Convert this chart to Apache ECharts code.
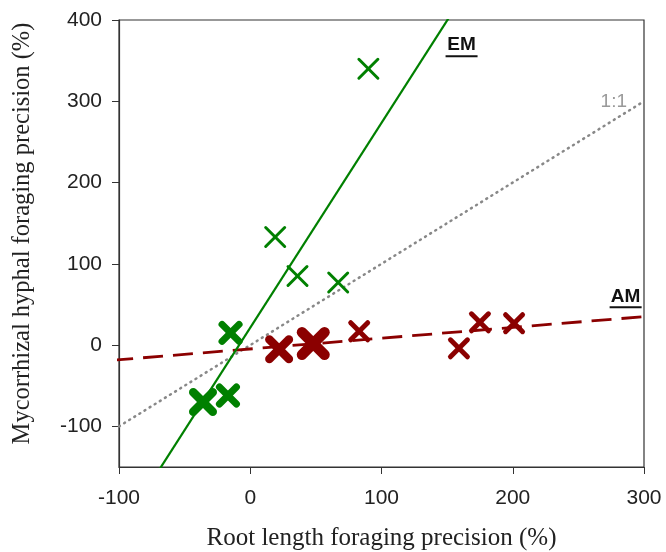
<!DOCTYPE html>
<html>
<head>
<meta charset="utf-8">
<script src="https://cdn.jsdelivr.net/npm/echarts@6/dist/echarts.min.js"></script>
<style>html,body{margin:0;padding:0;background:#fff;}#c{width:666px;height:552px;}</style>
</head>
<body>
<div id="c"></div>
<script>
// ---- data ----
const xTicks = [-100, 0, 100, 200, 300];
const yTicks = [-100, 0, 100, 200, 300, 400];
const emX = [90, 19, 36, 67, -15, -36, -17];
const emY = [340, 133, 85, 77, 15, -70, -62];
const emWeight = [1, 1, 1, 1, 3, 4, 3];
const amX = [22, 48, 83, 159, 175, 201];
const amY = [-5, 2, 17, -4, 28, 27];
const amWeight = [4, 5, 2, 2, 2, 2];
const emFit = {slope: 2.52, intercept: 21.4};
const amFit = {slope: 0.1325, intercept: -4.75};
const labelText = ['EM', 'AM', '1:1'];
const labelX = [161, 286, 277];
const labelY = [369, 60, 299];

// ---- styles ----
const GREEN = '#008000', RED = '#8b0000';
const markStyle = {1: [22, 3], 2: [22, 5], 3: [24, 7], 4: [28, 8.5], 5: [33, 10.5]};
const xMin = -100, xMax = 300, yMin = -150, yMax = 400;

function crossSeries(xs, ys, ws, color) {
  return {
    type: 'custom',
    coordinateSystem: 'cartesian2d',
    data: xs.map((x, i) => [x, ys[i], ws[i]]),
    z: 5,
    renderItem: function (params, api) {
      const p = api.coord([api.value(0), api.value(1)]);
      const st = markStyle[api.value(2)];
      const lw = st[1];
      const h = (st[0] - lw) / 2;
      const style = {stroke: color, lineWidth: lw, lineCap: 'round'};
      return {type: 'group', children: [
        {type: 'line', shape: {x1: p[0]-h, y1: p[1]-h, x2: p[0]+h, y2: p[1]+h}, style: style},
        {type: 'line', shape: {x1: p[0]-h, y1: p[1]+h, x2: p[0]+h, y2: p[1]-h}, style: style}
      ]};
    }
  };
}
function fitLine(fit) {
  return [[xMin - 50, fit.slope*(xMin-50)+fit.intercept], [xMax + 50, fit.slope*(xMax+50)+fit.intercept]];
}

const chart = echarts.init(document.getElementById('c'), null, {renderer: 'canvas'});
chart.setOption({
  animation: false,
  backgroundColor: '#fff',
  grid: {left: 119, right: 22, top: 20, bottom: 85, containLabel: false, outerBoundsMode: 'none',
    show: true, borderColor: '#333', borderWidth: 1.2, backgroundColor: 'transparent'},
  xAxis: {
    type: 'value', min: xMin, max: xMax, interval: 100,
    name: 'Root length foraging precision (%)', nameLocation: 'middle', nameGap: 59,
    nameTextStyle: {fontFamily: 'Liberation Serif', fontSize: 25, color: '#222'},
    axisLine: {show: true, onZero: false, lineStyle: {color: '#333', width: 1.2}},
    axisTick: {show: true, inside: false, length: 7, lineStyle: {color: '#333'}, customValues: xTicks},
    axisLabel: {fontFamily: 'Liberation Sans', fontSize: 21, color: '#222', margin: 21, customValues: xTicks},
    splitLine: {show: false}
  },
  yAxis: {
    type: 'value', min: yMin, max: yMax, interval: 50,
    name: 'Mycorrhizal hyphal foraging precision (%)', nameLocation: 'middle', nameGap: 84,
    nameTextStyle: {fontFamily: 'Liberation Serif', fontSize: 24.5, color: '#222', padding: [0, 0, 0, 20]},
    axisLine: {show: true, onZero: false, lineStyle: {color: '#333', width: 1.2}},
    axisTick: {show: true, inside: false, length: 7, lineStyle: {color: '#333'}, customValues: yTicks},
    axisLabel: {fontFamily: 'Liberation Sans', fontSize: 21, color: '#222', margin: 17, customValues: yTicks},
    splitLine: {show: false}
  },
  series: [
    {type: 'line', data: [[xMin, xMin], [xMax, xMax]], symbol: 'none', clip: true, z: 2,
      lineStyle: {color: '#888', width: 2.5, type: [1, 5], cap: 'round'}},
    {type: 'line', data: fitLine(amFit), symbol: 'none', clip: true, z: 3,
      lineStyle: {color: RED, width: 2.8, type: [20, 10]}},
    {type: 'line', data: fitLine(emFit), symbol: 'none', clip: true, z: 3,
      lineStyle: {color: GREEN, width: 2.2}},
    crossSeries(emX, emY, emWeight, GREEN),
    crossSeries(amX, amY, amWeight, RED),
    {
      type: 'custom', coordinateSystem: 'cartesian2d', z: 6,
      data: labelX.map((x, i) => [x, labelY[i]]),
      renderItem: function (params, api) {
        const i = params.dataIndex;
        const p = api.coord([api.value(0), api.value(1)]);
        const t = labelText[i];
        const group = i < 2;
        const children = [{type: 'text', x: p[0], y: p[1], style: {
          text: t, align: 'center', verticalAlign: 'middle',
          fontFamily: 'Liberation Sans', fontSize: 19, fontWeight: group ? 'bold' : 'normal',
          fill: group ? '#111' : '#999'}}];
        if (group) {
          children.push({type: 'line', shape: {x1: p[0]-16, y1: p[1]+11, x2: p[0]+16, y2: p[1]+11},
            style: {stroke: '#111', lineWidth: 2}});
        }
        return {type: 'group', children: children};
      }
    }
  ]
});
</script>
</body>
</html>
